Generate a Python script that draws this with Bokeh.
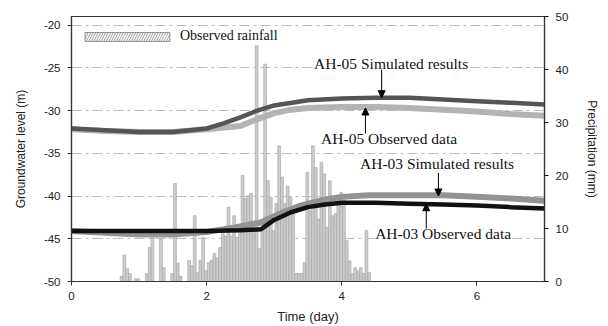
from bokeh.plotting import figure
from bokeh.models import (Range1d, LinearAxis, Label, Arrow, NormalHead, Legend, LegendItem,
                          PrintfTickFormatter, FixedTicker, ColumnDataSource)
from bokeh.embed import file_html
from bokeh.resources import INLINE

# ---------------- data ----------------
rain_start = 0.74          # day of first hourly bar
rain_step = 1.0 / 24.0     # hourly
rain_mm = [1, 5, 2.4, 1.5, 0, 0.5, 0.5, 0, 0, 1.5, 6.4, 8.2, 0, 0, 8, 2.6, 0, 0, 1.5, 18.5,
           3.5, 1, 0, 0, 4, 3, 12.4, 1.7, 4, 8.3, 2, 3.6, 4, 5.3, 4.5, 6.4, 9, 8.6, 14, 8.6,
           12.4, 8.3, 9.3, 20, 15.6, 16.2, 16.6, 10, 44.5, 6.2, 9.6, 41, 19, 15.9, 9.6, 14.7,
           25.6, 19.7, 14.7, 18, 15.9, 13.4, 1.5, 1.5, 1.5, 3.6, 20.6, 13.4, 25.6, 21.5, 11.8,
           22.5, 20.3, 10.2, 19, 12.4, 12.8, 16.2, 16.8, 15.9, 7.7, 3.9, 1.5, 2.6, 2, 2.6, 1.5,
           9.6, 1.7]
rain_day = [rain_start + i * rain_step for i in range(len(rain_mm))]

ah05_sim_t = [0, 0.5, 1.0, 1.5, 2.0, 2.25, 2.5, 2.75, 3.0, 3.5, 4.0, 4.5, 5.0, 5.5, 6.0, 6.5, 7.0]
ah05_sim_h = [-32.1, -32.3, -32.5, -32.5, -32.1, -31.5, -30.8, -30.0, -29.4, -28.8, -28.6, -28.5,
              -28.5, -28.7, -28.9, -29.1, -29.3]

ah05_obs_t = [0, 0.5, 1.0, 1.5, 2.0, 2.5, 2.75, 3.0, 3.25, 3.5, 4.0, 4.5, 5.0, 5.5, 6.0, 6.5, 7.0]
ah05_obs_h = [-32.2, -32.4, -32.5, -32.5, -32.2, -31.8, -31.0, -30.3, -29.9, -29.7, -29.6, -29.6,
              -29.7, -29.9, -30.1, -30.4, -30.6]

ah03_obs_t = [0, 0.5, 1.0, 1.5, 2.0, 2.5, 2.8, 3.0, 3.25, 3.5, 3.75, 4.0, 4.5, 5.0, 5.5, 6.0, 6.5, 7.0]
ah03_obs_h = [-44.1, -44.1, -44.1, -44.1, -44.1, -44.0, -43.9, -42.8, -41.9, -41.3, -41.0, -40.8,
              -40.8, -40.9, -41.0, -41.1, -41.3, -41.45]

ah03_sim_t = [0, 0.5, 1.0, 1.5, 2.0, 2.4, 2.8, 3.1, 3.4, 3.7, 4.0, 4.4, 5.0, 5.5, 6.0, 6.5, 7.0]
ah03_sim_h = [-44.1, -44.3, -44.5, -44.5, -44.2, -43.7, -43.1, -42.0, -41.1, -40.5, -40.1, -39.9,
              -39.9, -39.9, -40.1, -40.3, -40.55]

x_ticks = [0, 2, 4, 6]
left_ticks = [-50, -45, -40, -35, -30, -25, -20]
right_ticks = [0, 10, 20, 30, 40, 50]

ann_texts = ["AH-05 Simulated results", "AH-05 Observed data",
             "AH-03 Simulated results", "AH-03 Observed data"]
ann_pos = [(4.73, -24.55), (4.70, -33.3), (5.41, -36.2), (5.50, -44.4)]
arrow_pos = [(4.59, -25.2, -28.5), (4.35, -32.7, -29.7), (5.43, -37.3, -40.0), (5.25, -43.8, -40.9)]

# ---------------- figure ----------------
SANS = "Liberation Sans"
SERIF = "Liberation Serif"

p = figure(width=608, height=326, output_backend="svg", toolbar_location=None,
           x_range=Range1d(0, 7), y_range=Range1d(-50, -19),
           min_border_left=71, min_border_right=64, min_border_top=16, min_border_bottom=45)
p.extra_y_ranges = {"precip": Range1d(0, 50)}
p.background_fill_color = "white"
p.border_fill_color = "white"
p.outline_line_color = "#333333"
p.outline_line_width = 1.2

# grid
p.xgrid.grid_line_color = None
p.ygrid.grid_line_color = "#bdbdbd"
p.ygrid.grid_line_dash = "10 4 3 4"
p.ygrid.grid_line_width = 1
p.ygrid.ticker = FixedTicker(ticks=[-45, -40, -35, -30, -25, -20])

# axes
for ax in (p.xaxis[0], p.yaxis[0]):
    ax.major_label_text_font = SANS
    ax.major_label_text_font_size = "11.5px"
    ax.major_label_text_color = "#222222"
    ax.axis_label_text_font = SANS
    ax.axis_label_text_font_style = "normal"
    ax.axis_label_text_color = "#222222"
    ax.minor_tick_line_color = None
    ax.major_tick_out = 4
    ax.major_tick_in = 0
    ax.axis_line_color = "#333333"
    ax.axis_line_width = 1.2
    ax.major_tick_line_color = "#333333"

p.xaxis.ticker = FixedTicker(ticks=x_ticks)
p.xaxis.axis_label = "Time (day)"
p.xaxis.axis_label_text_font_size = "13px"
p.xaxis.major_label_standoff = 6
p.xaxis.axis_label_standoff = 6

p.yaxis.ticker = FixedTicker(ticks=left_ticks)
p.yaxis.formatter = PrintfTickFormatter(format="%d")
p.yaxis.axis_label = "Groundwater level (m)"
p.yaxis.axis_label_text_font_size = "12px"
p.yaxis.major_label_standoff = 7
p.yaxis.axis_label_standoff = 13

rax = LinearAxis(y_range_name="precip", ticker=FixedTicker(ticks=right_ticks),
                 axis_label="Precipitation (mm)")
rax.major_label_text_font = SANS
rax.major_label_text_font_size = "11.5px"
rax.major_label_text_color = "#222222"
rax.axis_label_text_font = SANS
rax.axis_label_text_font_style = "normal"
rax.axis_label_text_font_size = "12px"
rax.axis_label_text_color = "#222222"
rax.minor_tick_line_color = None
rax.major_tick_out = 4
rax.major_tick_in = 0
rax.axis_line_color = "#333333"
rax.axis_line_width = 1.2
rax.major_label_standoff = 7
rax.axis_label_standoff = 14
p.add_layout(rax, "right")

# rainfall bars
rain_src = ColumnDataSource(dict(x=rain_day, top=rain_mm))
p.vbar(x="x", top="top", bottom=0, width=rain_step, source=rain_src,
       y_range_name="precip", fill_color="#cccccc", line_color="#a3a3a3", line_width=0.6)

# legend dummy (hatched box) - nan data so nothing is drawn in the plot itself
leg_r = p.vbar(x=[float("nan")], top=[float("nan")], width=0.1, y_range_name="precip",
               fill_color="white", line_color="#8c8c8c", hatch_pattern="/",
               hatch_color="#a0a0a0", hatch_scale=5, hatch_weight=1)

# lines
p.line(ah05_obs_t, ah05_obs_h, line_color="#b3b3b3", line_width=6)
p.line(ah05_sim_t, ah05_sim_h, line_color="#555555", line_width=4.5)
p.line(ah03_sim_t, ah03_sim_h, line_color="#939393", line_width=6)
p.line(ah03_obs_t, ah03_obs_h, line_color="#111111", line_width=4.5)

# annotations
for txt, (tx, ty) in zip(ann_texts, ann_pos):
    p.add_layout(Label(x=tx, y=ty, text=txt, text_align="center", text_baseline="middle",
                       text_font=SERIF, text_font_size="15.5px", text_color="#111111",
                       background_fill_color="white", background_fill_alpha=1.0))
for (ax_, y0, y1) in arrow_pos:
    p.add_layout(Arrow(x_start=ax_, y_start=y0, x_end=ax_, y_end=y1, line_color="black",
                       line_width=1, end=NormalHead(size=7, fill_color="black",
                                                    line_color="black")))

legend = Legend(items=[LegendItem(label="Observed rainfall", renderers=[leg_r])],
                location=(3, 237), glyph_width=106, glyph_height=11, padding=0, margin=0,
                spacing=0, label_standoff=0, border_line_alpha=0, background_fill_alpha=0,
                label_text_font=SERIF, label_text_font_size="14px", label_text_color="#111111",
                label_height=15)
p.add_layout(legend, "center")

open("out.html", "w").write(file_html(p, INLINE))
